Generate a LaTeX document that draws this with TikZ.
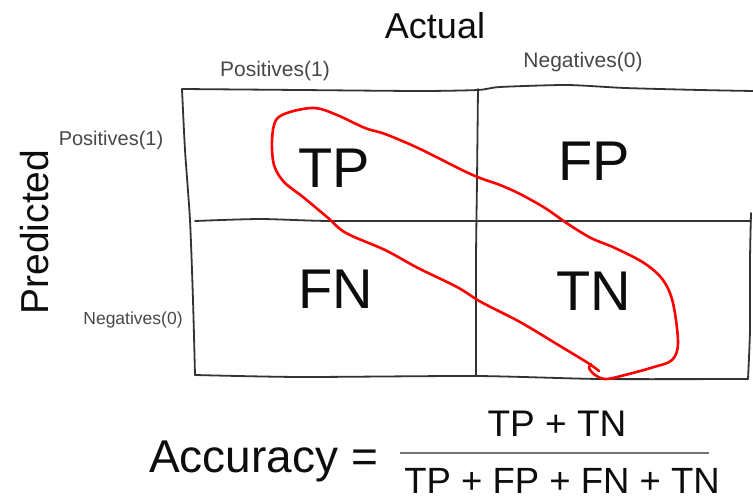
\documentclass[tikz,border=0pt]{standalone}
\usepackage{fontspec}
\setmainfont{Liberation Sans}
\newcommand\fsz[1]{\fontsize{#1}{#1}\selectfont}
\begin{document}
\begin{tikzpicture}[x=1pt,y=-1pt,
  grid/.style={draw=black!80, line width=1.8pt, line cap=round, line join=round},
  lbl/.style={inner sep=0pt, anchor=base, text=black!72},
  big/.style={inner sep=0pt, anchor=base, text=black!95},
  loop/.style={draw=red, line width=2.6pt, line cap=round, line join=round}]
\useasboundingbox (0,0) rectangle (753,503);
% table frame
\draw[grid] plot[smooth, tension=0.4] coordinates {(182,89) (300,90) (420,91) (478,90) (500,87) (567,85) (625,88) (700,90) (753,91)};
\draw[grid] plot[smooth, tension=0.4] coordinates {(182,89) (185,150) (190,220) (193,300) (195,375)};
\draw[grid] plot[smooth, tension=0.4] coordinates {(195,375) (300,377) (476,376) (600,379) (748,379)};
\draw[grid] plot[smooth, tension=0.4] coordinates {(748,379) (750,330) (750,260) (751,213)};
\draw[grid] plot[smooth, tension=0.4] coordinates {(478,89) (477,180) (476,260) (476,376)};
\draw[grid] plot[smooth, tension=0.4] coordinates {(195,221) (260,219) (330,221) (476,221) (600,221) (751,221)};
% labels
\node[big] (actual) at (435,39) {\fsz{36}Actual};
\node[lbl] (cpos) at (275,77) {\fsz{21}Positives(1)};
\node[lbl] (cneg) at (583,68) {\fsz{21}Negatives(0)};
\node[lbl] (rpos) at (111,146) {\fsz{20}Positives(1)};
\node[lbl] (rneg) at (133,324) {\fsz{17.5}Negatives(0)};
\node[big, rotate=90] (pred) at (48,232) {\fsz{39}Predicted};
\node[big] (tp) at (334,187) {\fsz{56}TP};
\node[big] (fp) at (594,180) {\fsz{56}FP};
\node[big] (fn) at (336,308) {\fsz{56}FN};
\node[big] (tn) at (594,310) {\fsz{56}TN};
% red loop
\draw[loop] plot[smooth, tension=0.55] coordinates {
 (599,371) (588,363) (560,346) (520,322) (481,302) (457,287) (418,268) (385,250)
 (346,233) (327,217) (303,197) (284,182) (274,165) (272,140) (276,120) (290,112)
 (315,108) (337,115) (365,128) (385,134) (418,148) (462,170) (480,178) (500,185)
 (520,194) (545,208) (568,224) (591,238) (615,248) (644,263) (663,280) (673,303)
 (678,343) (672,360) (654,367) (625,375) (606,379) (595,375) (589,368) (591,364)};
% formula
\node[big, anchor=base west] (acc) at (149,472) {\fsz{46}Accuracy =};
\node[big] (num) at (557,436) {\fsz{37}TP + TN};
\node[big] (den) at (562,493) {\fsz{36.5}TP + FP + FN + TN};
\draw[draw=black!55, line width=2pt] (400,453) coordinate (b1) -- (709,453) coordinate (b2);
\end{tikzpicture}
\end{document}
